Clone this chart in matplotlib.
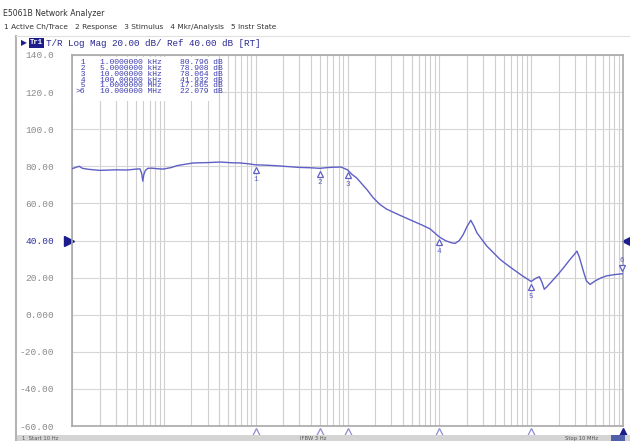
import numpy as np
import matplotlib.pyplot as plt
from matplotlib import transforms

# trace (Hz, dB)
freq = [10, 11, 12, 13, 15, 20, 30, 40, 50, 55, 57.5, 59, 60.5, 63, 67, 74, 85,
        98, 120, 138, 170, 210, 300, 410, 550, 676, 850, 1000, 1300, 1700, 2300,
        3000, 4000, 5000, 6000, 7000, 8500, 10000, 11200, 12600, 14300, 16300,
        19000, 22600, 26500, 31600, 40000, 52000, 65000, 79000, 100000, 118000,
        135000, 148000, 165000, 182000, 200000, 220000, 238000, 257000, 290000,
        329000, 390000, 459000, 550000, 641000, 800000, 1000000, 1120000,
        1230000, 1310000, 1390000, 1500000, 1700000, 1900000, 2250000, 2650000,
        3000000, 3150000, 3350000, 3700000, 4000000, 4380000, 5000000, 5800000,
        6600000, 8000000, 10000000]
mag = [78.7, 79.4, 80.0, 78.9, 78.4, 77.8, 78.1, 78.0, 78.5, 78.6, 76.0, 72.0,
       75.5, 77.8, 78.9, 79.0, 78.7, 78.5, 79.3, 80.3, 81.1, 81.8, 82.0, 82.3,
       81.9, 81.8, 81.3, 80.8, 80.6, 80.3, 79.8, 79.4, 79.2, 78.9, 79.3, 79.5,
       79.6, 78.1, 75.6, 73.7, 70.6, 67.4, 63.1, 59.4, 57.0, 55.2, 52.9, 50.4,
       48.3, 46.3, 41.9, 39.8, 38.8, 38.4, 40.0, 43.2, 47.5, 50.9, 47.8, 44.1,
       40.6, 37.0, 33.3, 29.8, 26.8, 24.4, 21.0, 17.9, 19.6, 20.5, 17.5, 13.7,
       15.3, 18.3, 20.9, 25.3, 29.8, 32.9, 34.3, 31.0, 23.5, 18.2, 16.3, 18.3,
       19.9, 20.9, 21.6, 22.1]

# markers
mk_num = ['1', '2', '3', '4', '5', '6']
mk_freq = [1e3, 5e3, 1e4, 1e5, 1e6, 1e7]
mk_val = [80.796, 78.908, 78.064, 41.932, 17.865, 22.079]
mk_ftext = ['1.0000000 kHz', '5.0000000 kHz', '10.000000 kHz',
            '100.00000 kHz', '1.0000000 MHz', '10.000000 MHz']

yticks = [140, 120, 100, 80, 60, 40, 20, 0, -20, -40, -60]
ylabels = ['140.0', '120.0', '100.0', '80.00', '60.00', '40.00', '20.00',
           '0.000', '-20.00', '-40.00', '-60.00']

W, H = 630, 441
trace_c = '#5f5fc6'
navy = '#1c1c8c'
mono = 'Liberation Mono'

fig = plt.figure(figsize=(W/100, H/100), dpi=100)
fig.patch.set_facecolor('white')

def fx(x):
    return x / W

def fy(y):
    return 1 - y / H

ax = fig.add_axes([fx(72), fy(426), fx(623) - fx(72), fy(55) - fy(426)])
ax.set_xscale('log')
ax.set_xlim(10, 1e7)
ax.set_ylim(-60, 140)

# grid
for d in range(1, 7):
    for m in range(1, 10):
        ax.axvline(m * 10**d, color='#cfcfcf', lw=0.8, zorder=0)
for v in yticks:
    ax.axhline(v, color='#d6d6d6', lw=0.8, zorder=0)
ax.set_xticks([])
ax.set_xticks([], minor=True)
ax.set_yticks(yticks)
ax.set_yticklabels(ylabels, fontfamily=mono, fontsize=6.8, color='#8a8a8a')
ax.get_yticklabels()[5].set_color('#3030a0')
ax.tick_params(axis='y', length=0, pad=13)
for s in ax.spines.values():
    s.set_color('#a8a8a8')
    s.set_linewidth(1.2)

ax.plot(freq, mag, color=trace_c, lw=1.0, zorder=3)

# markers on the trace
for i in range(len(mk_num)):
    if i < 5:
        tr = transforms.offset_copy(ax.transData, fig=fig, x=0, y=-4, units='points')
        ax.plot(mk_freq[i], mk_val[i], marker='^', ms=5, mfc='white', mec=trace_c,
                mew=0.9, transform=tr, zorder=4, clip_on=False)
        ax.annotate(mk_num[i], (mk_freq[i], mk_val[i]), xytext=(0, -8),
                    textcoords='offset points', ha='center', va='top',
                    fontsize=5.5, fontfamily=mono, color=trace_c, zorder=4)
    else:
        tr = transforms.offset_copy(ax.transData, fig=fig, x=-1, y=4, units='points')
        ax.plot(mk_freq[i], mk_val[i], marker='v', ms=5, mfc='white', mec=trace_c,
                mew=0.9, transform=tr, zorder=4, clip_on=False)
        ax.annotate(mk_num[i], (mk_freq[i], mk_val[i]), xytext=(-1, 7),
                    textcoords='offset points', ha='center', va='bottom',
                    fontsize=5.5, fontfamily=mono, color=trace_c, zorder=4)

# triangles under the x axis
bt = transforms.blended_transform_factory(ax.transData, ax.transAxes)
for i in range(len(mk_freq)):
    if i < 5:
        ax.plot(mk_freq[i], -0.015, marker='^', ms=6, mfc='white', mec='#8c8cd0',
                mew=0.9, transform=bt, clip_on=False)
    else:
        ax.plot(mk_freq[i], -0.015, marker='^', ms=6, mfc=navy, mec=navy,
                transform=bt, clip_on=False)

# reference position arrows
rt = transforms.blended_transform_factory(ax.transAxes, ax.transData)
ax.plot(-0.006, 40, marker='>', ms=7, color=navy, transform=rt, clip_on=False)
ax.plot(1.008, 40, marker='<', ms=7, color=navy, transform=rt, clip_on=False)

# marker table
ax.add_patch(plt.Rectangle((0.002, 0.875), 0.26, 0.12, transform=ax.transAxes,
                           facecolor='white', edgecolor='none', zorder=2))
for i in range(len(mk_num)):
    y = 62.7 + i * 5.8
    lab = ('>' if i == 5 else ' ') + mk_num[i]
    fig.text(fx(76), fy(y), lab, fontfamily=mono, fontsize=5.8, color='#3c3cb0', va='center')
    fig.text(fx(100), fy(y), mk_ftext[i], fontfamily=mono, fontsize=5.8, color='#3c3cb0', va='center')
    fig.text(fx(180), fy(y), '%.3f dB' % mk_val[i], fontfamily=mono, fontsize=5.8,
             color='#3c3cb0', va='center')

# window chrome
fig.text(fx(3), fy(13), 'E5061B Network Analyzer', fontsize=5.6, color='#333333', va='center')
fig.text(fx(4), fy(27), '1 Active Ch/Trace   2 Response   3 Stimulus   4 Mkr/Analysis   5 Instr State',
         fontsize=5.3, color='#333333', va='center')
fig.add_artist(plt.Line2D([fx(16), fx(16)], [fy(36), 0], color='#b4b4b4', lw=1.5))
fig.add_artist(plt.Line2D([fx(16), fx(630)], [fy(36), fy(36)], color='#e0e0e0', lw=0.8))
fig.text(fx(21), fy(43), '\u25b6', fontsize=5.5, color=navy, va='center', fontfamily='DejaVu Sans')
fig.text(fx(30), fy(43), 'Tr1', fontfamily=mono, fontsize=5.2, color='white', va='center',
         fontweight='bold', bbox=dict(boxstyle='square,pad=0.15', fc=navy, ec='none'))
fig.text(fx(46), fy(43), 'T/R Log Mag 20.00 dB/ Ref 40.00 dB [RT]', fontfamily=mono,
         fontsize=6.7, color='#2a2a90', va='center')

# status bar at the bottom
fig.add_artist(plt.Rectangle((fx(16), 0), 1 - fx(16), fy(435), transform=fig.transFigure,
                             facecolor='#d4d4d4', edgecolor='none'))
fig.text(fx(22), fy(438.2), '1  Start 10 Hz', fontsize=3.8, color='#555555', va='center')
fig.text(fx(300), fy(438.2), 'IFBW 3 Hz', fontsize=3.8, color='#555555', va='center')
fig.text(fx(565), fy(438.2), 'Stop 10 MHz', fontsize=3.8, color='#555555', va='center')
fig.add_artist(plt.Rectangle((fx(611), 0), fx(14), fy(435), transform=fig.transFigure,
                             facecolor='#5060a8', edgecolor='none'))

fig.savefig('out.png', dpi=100)
